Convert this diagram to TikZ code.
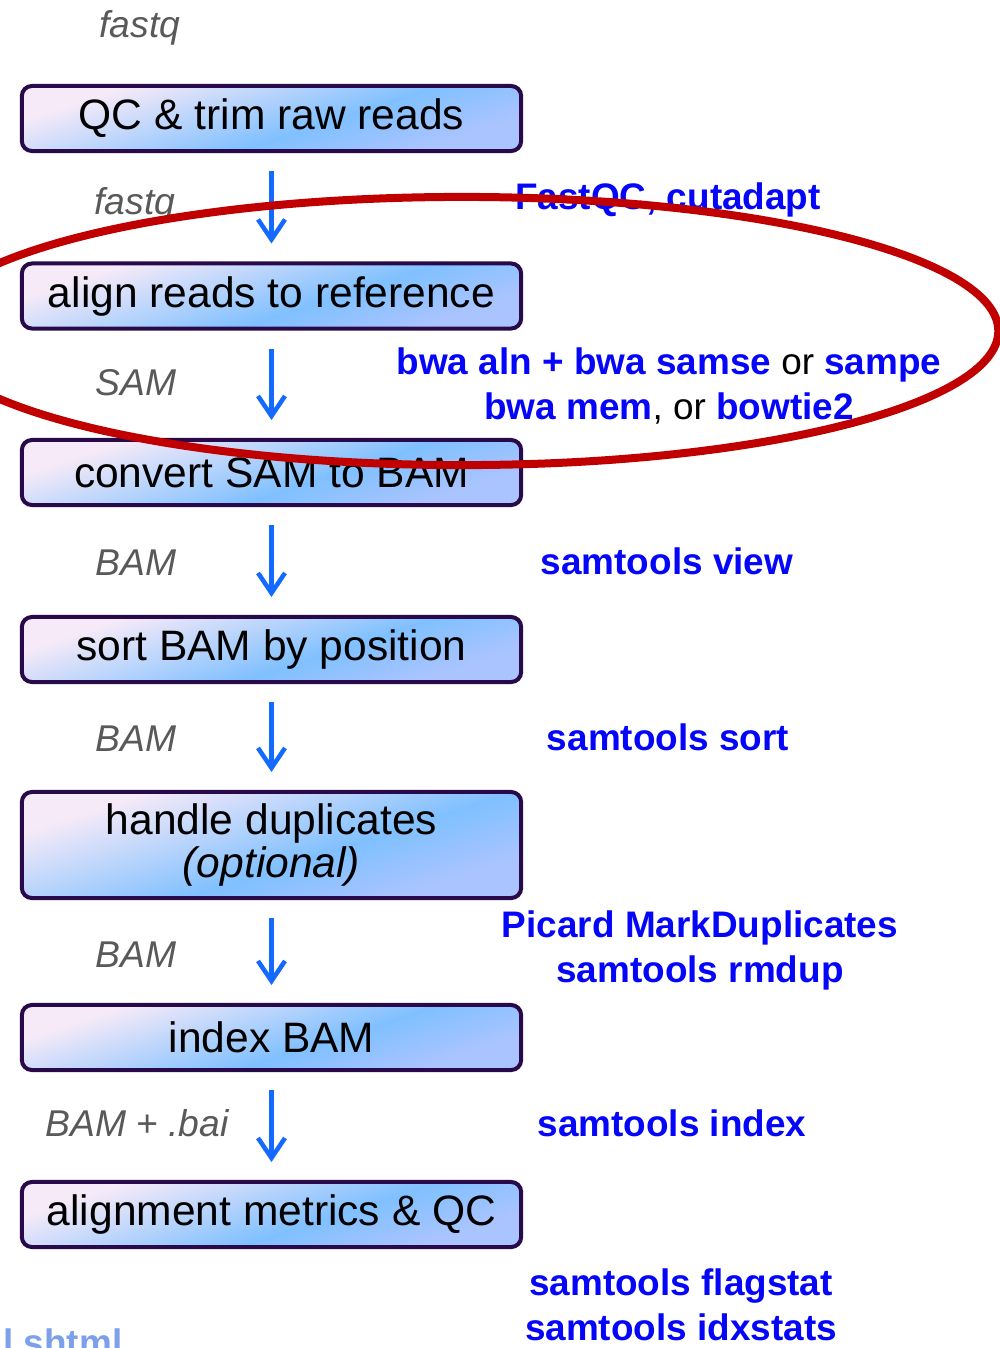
\documentclass[tikz,border=0pt]{standalone}
\usepackage{fontspec}
\setmainfont{Liberation Sans}
\usetikzlibrary{arrows.meta}
\definecolor{BoxEdge}{RGB}{40,10,75}
\definecolor{BoxTop}{RGB}{246,234,248}
\definecolor{BoxMid}{RGB}{128,192,255}
\definecolor{BoxBot}{RGB}{170,196,255}
\definecolor{FlowClr}{RGB}{20,105,255}
\definecolor{FmtClr}{RGB}{89,89,89}
\definecolor{ToolClr}{RGB}{5,5,250}
\definecolor{HoopClr}{RGB}{192,0,0}
\definecolor{LinkClr}{RGB}{125,160,235}
\pgfdeclareverticalshading{boxshade}{100bp}{color(0bp)=(BoxBot); color(28bp)=(BoxBot);
  color(44bp)=(BoxMid); color(72bp)=(BoxTop); color(100bp)=(BoxTop)}

\begin{document}
\begin{tikzpicture}[x=0.01cm,y=-0.01cm,
  stepbox/.style={draw=BoxEdge,line width=0.04cm,rounded corners=0.1cm,
    minimum width=4.99cm,minimum height=0.65cm,inner sep=0pt,outer sep=0pt,
    align=center,font=\fontsize{12.1}{13.4}\selectfont,
    shade,shading=boxshade,shading angle=18},
  fmt/.style={text=FmtClr,font=\fontsize{10.6}{12.7}\selectfont\itshape},
  tool/.style={text=ToolClr,align=center,font=\fontsize{10.5}{12.8}\selectfont\bfseries},
  flow/.style={draw=FlowClr,line width=0.045cm,
    -{Straight Barb[length=0.2cm,width=0.27cm]},
    shorten <=0.2cm,shorten >=0.2cm},
  hoop/.style={draw=HoopClr,line width=0.08cm}]
\useasboundingbox (0,0) rectangle (1000,1348);

\node[stepbox] (qc) at (271.5,118.5) {QC \& trim raw reads};
\node[stepbox] (align) at (271.5,296) {align reads to reference};
\node[stepbox] (convert) at (271.5,472.5) {convert SAM to BAM};
\node[stepbox] (sort) at (271.5,649.5) {sort BAM by position};
\node[stepbox,minimum height=1.06cm] (dups) at (271.5,845)
  {handle duplicates\\[-1pt]\textit{(optional)}};
\node[stepbox] (index) at (271.5,1037.5) {index BAM};
\node[stepbox] (metrics) at (271.5,1214.5) {alignment metrics \& QC};

\foreach \a/\b in {qc/align,align/convert,convert/sort,sort/dups,dups/index,index/metrics}
  \draw[flow] (\a) -- (\b);

\node[fmt] (raw) at (140,28) {fastq};
\node[fmt] (trimmed) at (135,205) {fastq};
\node[fmt] (sam) at (136,383) {SAM};
\node[fmt] (bam) at (136,563) {BAM};
\node[fmt] (sorted) at (136,739) {BAM};
\node[fmt] (dedup) at (136,955) {BAM};
\node[fmt] (bai) at (137,1123) {BAM \textup{+} .bai};

\node[tool] (fastqc) at (668,200) {FastQC, cutadapt};
\node[tool] (bwa) at (669,386)
  {bwa aln + bwa samse \textcolor{black}{\mdseries or} sampe\\
   bwa mem\textcolor{black}{\mdseries, or} bowtie2};
\node[tool] (view) at (667,561) {samtools view};
\node[tool] (stsort) at (668,737) {samtools sort};
\node[tool] (picard) at (700,950) {Picard MarkDuplicates\\samtools rmdup};
\node[tool] (stindex) at (672,1123) {samtools index};
\node[tool] (stats) at (681,1305) {samtools flagstat\\samtools idxstats};

\node[text=LinkClr,font=\fontsize{10.5}{12.8}\selectfont\bfseries,
  anchor=base east,inner sep=0pt] (link) at (123,1355) {al.shtml};

\draw[hoop] (462,331) ellipse [x radius=5.36cm,y radius=1.34cm];

\end{tikzpicture}
\end{document}
